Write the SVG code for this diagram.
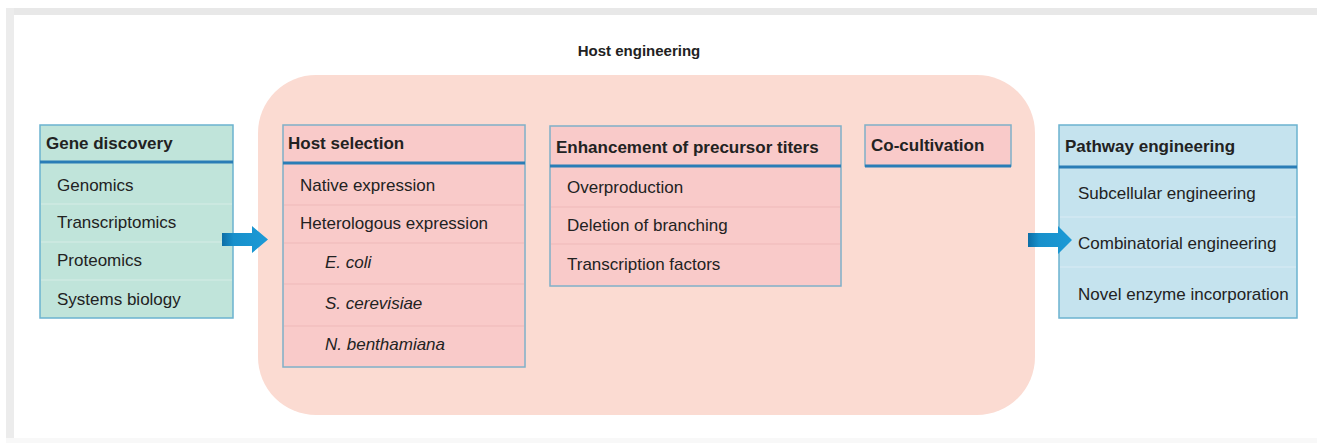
<svg xmlns="http://www.w3.org/2000/svg" width="1317" height="443" viewBox="0 0 1317 443">
<style>
text{font-family:"Liberation Sans",Arial,sans-serif;fill:#222;font-size:17px}
.t{font-weight:bold}
.i{font-style:italic}
.green{fill:#c0e4da;stroke:#6bb3cf;stroke-width:1.5}
.pink{fill:#f9cac9;stroke:#7fb0c8;stroke-width:1.5}
.blue{fill:#c5e3ee;stroke:#6bb3cf;stroke-width:1.5}
.hd{stroke:#2a7db6;stroke-width:3}
.dv{stroke:#ffffff;stroke-opacity:0.35;stroke-width:1}
.dvp{stroke:#eeb9b9;stroke-width:1}
</style>
<defs>
<linearGradient id="ag" x1="0" y1="0" x2="1" y2="0">
<stop offset="0" stop-color="#0d6ea6"/>
<stop offset="0.25" stop-color="#1890cb"/>
<stop offset="1" stop-color="#1c9ad6"/>
</linearGradient>
</defs>
<rect x="0" y="0" width="1317" height="443" fill="#ffffff"/>
<rect x="6" y="8" width="1311" height="7" fill="#e8e8e8"/>
<rect x="6" y="8" width="8" height="435" fill="#ececec"/>
<rect x="6" y="438" width="1311" height="5" fill="#f8f8f8"/>

<g id="host-engineering">
<rect x="258" y="75" width="777" height="340" rx="58" fill="#fbdbd2"/>
<text class="t" x="639" y="56" text-anchor="middle" style="font-size:15px">Host engineering</text>
</g>

<g id="gene-discovery">
<rect class="green" x="40" y="125" width="193" height="193"/>
<line class="hd" x1="40" y1="162" x2="233" y2="162"/>
<line class="dv" x1="41" y1="204" x2="232" y2="204"/>
<line class="dv" x1="41" y1="242" x2="232" y2="242"/>
<line class="dv" x1="41" y1="280" x2="232" y2="280"/>
<text class="t" x="46" y="149">Gene discovery</text>
<text x="57" y="191">Genomics</text>
<text x="57" y="228">Transcriptomics</text>
<text x="57" y="266">Proteomics</text>
<text x="57" y="305">Systems biology</text>
</g>

<g id="host-selection">
<rect class="pink" x="283" y="125" width="242" height="242"/>
<line class="hd" x1="283" y1="163" x2="525" y2="163"/>
<line class="dvp" x1="284" y1="205" x2="524" y2="205"/>
<line class="dvp" x1="284" y1="243" x2="524" y2="243"/>
<line class="dvp" x1="284" y1="284" x2="524" y2="284"/>
<line class="dvp" x1="284" y1="326" x2="524" y2="326"/>
<text class="t" x="288" y="149">Host selection</text>
<text x="300" y="191">Native expression</text>
<text x="300" y="229">Heterologous expression</text>
<text class="i" x="325" y="268">E. coli</text>
<text class="i" x="325" y="309">S. cerevisiae</text>
<text class="i" x="325" y="350">N. benthamiana</text>
</g>

<g id="precursor-titers">
<rect class="pink" x="550" y="126" width="291" height="160"/>
<line class="hd" x1="550" y1="166" x2="841" y2="166"/>
<line class="dvp" x1="551" y1="207" x2="840" y2="207"/>
<line class="dvp" x1="551" y1="244" x2="840" y2="244"/>
<text class="t" x="556" y="153">Enhancement of precursor titers</text>
<text x="567" y="193">Overproduction</text>
<text x="567" y="231">Deletion of branching</text>
<text x="567" y="270">Transcription factors</text>
</g>

<g id="co-cultivation">
<rect class="pink" x="865" y="125" width="146" height="41"/>
<line class="hd" x1="865" y1="166" x2="1011" y2="166"/>
<text class="t" x="871" y="151">Co-cultivation</text>
</g>

<g id="pathway-engineering">
<rect class="blue" x="1059" y="125" width="238" height="193"/>
<line class="hd" x1="1059" y1="167" x2="1297" y2="167"/>
<line class="dv" x1="1060" y1="217" x2="1296" y2="217"/>
<line class="dv" x1="1060" y1="267" x2="1296" y2="267"/>
<text class="t" x="1065" y="152">Pathway engineering</text>
<text x="1078" y="199">Subcellular engineering</text>
<text x="1078" y="249">Combinatorial engineering</text>
<text x="1078" y="300">Novel enzyme incorporation</text>
</g>

<g id="connectors">
<polygon fill="url(#ag)" points="222,233 252,233 252,226 268,239.5 252,253 252,246 222,246"/>
<polygon fill="url(#ag)" points="1028,233 1058,233 1058,226 1072,240 1058,254 1058,247 1028,247"/>
</g>
</svg>
